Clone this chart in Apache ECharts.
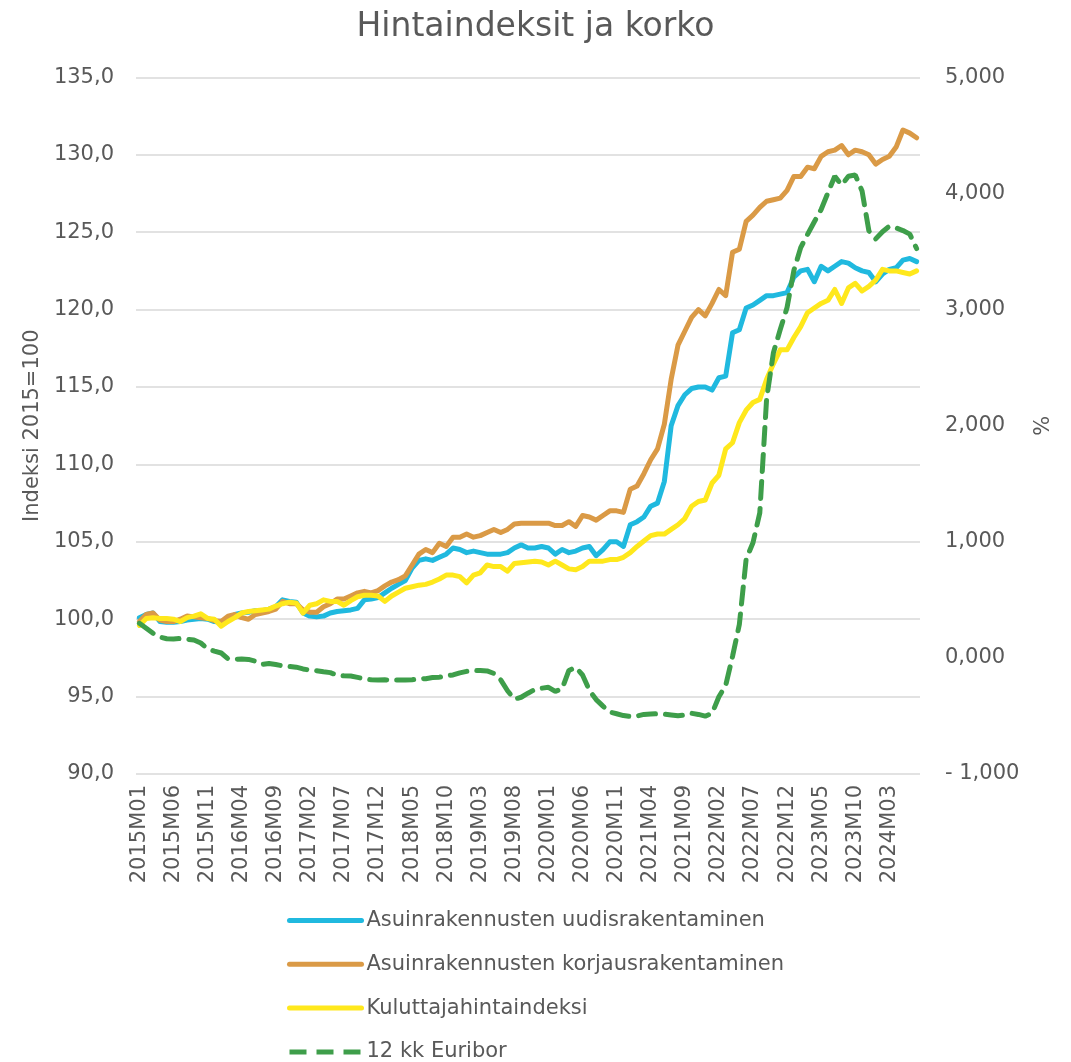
<!DOCTYPE html>
<html>
<head>
<meta charset="utf-8">
<script src="https://cdn.jsdelivr.net/npm/echarts@6/dist/echarts.min.js"></script>
<style>
html,body{margin:0;padding:0;background:#fff;}
#c{width:1071px;height:1062px;}
</style>
</head>
<body>
<div id="c"></div>
<script>
// Categories: monthly 2015M01 .. 2024M07
const startYear = 2015, monthCount = 115;
const categories = [];
for (let k = 0; k < monthCount; k++) {
  const y = startYear + Math.floor(k / 12), m = (k % 12) + 1;
  categories.push(y + 'M' + (m < 10 ? '0' + m : m));
}

const uudis = [
  100.1,100.3,100.4,99.85,99.8,99.8,99.85,99.95,100.0,100.05,100.0,99.85,
  99.8,100.05,100.3,100.4,100.45,100.55,100.55,100.65,100.8,101.25,101.15,101.1,
  100.4,100.2,100.15,100.2,100.4,100.5,100.55,100.6,100.7,101.25,101.3,101.4,
  101.7,102.0,102.25,102.5,103.3,103.8,103.9,103.8,104.0,104.2,104.6,104.5,
  104.3,104.4,104.3,104.2,104.2,104.2,104.3,104.6,104.8,104.6,104.6,104.7,
  104.6,104.2,104.5,104.3,104.4,104.6,104.7,104.1,104.5,105.0,105.0,104.7,
  106.1,106.3,106.6,107.3,107.5,108.9,112.5,113.8,114.5,114.9,115.0,115.0,
  114.8,115.6,115.7,118.5,118.7,120.1,120.3,120.6,120.9,120.9,121.0,121.1,
  122.1,122.5,122.6,121.8,122.8,122.5,122.8,123.1,123.0,122.7,122.5,122.4,
  121.8,122.3,122.6,122.7,123.2,123.3,123.1
];
const korjaus = [
  99.85,100.3,100.4,99.95,99.85,99.85,100.0,100.2,100.15,100.1,100.05,99.9,
  99.85,100.2,100.3,100.1,100.0,100.3,100.4,100.5,100.65,101.15,101.0,101.0,
  100.6,100.45,100.45,100.8,101.0,101.3,101.3,101.5,101.7,101.8,101.7,101.85,
  102.15,102.4,102.55,102.8,103.5,104.2,104.5,104.3,104.9,104.7,105.3,105.3,
  105.5,105.3,105.4,105.6,105.8,105.6,105.8,106.15,106.2,106.2,106.2,106.2,
  106.2,106.05,106.05,106.3,106.0,106.7,106.6,106.4,106.7,107.0,107.0,106.9,
  108.4,108.6,109.4,110.3,111.0,112.6,115.5,117.7,118.6,119.5,120.0,119.6,
  120.4,121.3,120.9,123.7,123.9,125.7,126.1,126.6,127.0,127.1,127.2,127.7,
  128.6,128.6,129.2,129.1,129.9,130.2,130.3,130.6,130.0,130.3,130.2,130.0,
  129.4,129.7,129.9,130.5,131.6,131.4,131.1
];
const khi = [
  99.6,100.05,100.1,100.05,100.05,100.0,99.85,100.1,100.2,100.35,100.05,100.0,
  99.55,99.85,100.1,100.4,100.5,100.55,100.6,100.65,100.85,101.0,101.1,101.05,
  100.4,100.9,101.0,101.25,101.15,101.15,100.9,101.2,101.45,101.55,101.55,101.5,
  101.15,101.5,101.75,102.0,102.1,102.2,102.25,102.4,102.6,102.85,102.85,102.75,
  102.35,102.85,103.0,103.5,103.4,103.4,103.1,103.6,103.65,103.7,103.75,103.7,
  103.5,103.75,103.5,103.25,103.2,103.4,103.75,103.75,103.75,103.85,103.85,104.0,
  104.3,104.7,105.05,105.4,105.5,105.5,105.8,106.1,106.5,107.3,107.6,107.7,
  108.8,109.3,111.0,111.4,112.7,113.5,114.0,114.2,115.5,116.5,117.4,117.4,
  118.2,118.9,119.8,120.1,120.4,120.6,121.3,120.4,121.4,121.7,121.2,121.5,
  121.9,122.6,122.5,122.5,122.4,122.3,122.5
];
const euribor = [
  0.298,0.255,0.212,0.180,0.165,0.163,0.167,0.161,0.154,0.128,0.079,0.059,
  0.042,-0.008,-0.012,-0.010,-0.013,-0.028,-0.056,-0.048,-0.057,-0.069,-0.074,-0.080,
  -0.095,-0.106,-0.110,-0.119,-0.127,-0.149,-0.154,-0.156,-0.168,-0.180,-0.189,-0.190,
  -0.189,-0.191,-0.191,-0.190,-0.188,-0.181,-0.179,-0.169,-0.166,-0.154,-0.147,-0.129,
  -0.116,-0.108,-0.109,-0.112,-0.134,-0.190,-0.283,-0.356,-0.339,-0.304,-0.272,-0.261,
  -0.253,-0.288,-0.266,-0.108,-0.081,-0.147,-0.279,-0.359,-0.415,-0.466,-0.481,-0.497,
  -0.505,-0.501,-0.487,-0.484,-0.481,-0.484,-0.491,-0.498,-0.492,-0.477,-0.487,-0.502,
  -0.477,-0.335,-0.237,0.013,0.287,0.852,0.992,1.249,2.233,2.629,2.828,3.018,
  3.337,3.534,3.647,3.757,3.862,4.007,4.149,4.073,4.149,4.160,4.022,3.679,
  3.609,3.671,3.718,3.703,3.681,3.650,3.526
];

const seriesNames = [
  'Asuinrakennusten uudisrakentaminen',
  'Asuinrakennusten korjausrakentaminen',
  'Kuluttajahintaindeksi',
  '12 kk Euribor'
];
const colors = ['#20B9DF', '#DA9A46', '#FFE81C', '#3E9E4A'];

const FONT = "'DejaVu Sans', sans-serif";
const TXT = '#595959';

const chart = echarts.init(document.getElementById('c'), null, {renderer: 'canvas'});
const lineSeries = (name, data, color, yIdx, dashed) => ({
  name, type: 'line', data, yAxisIndex: yIdx, symbol: 'none', smooth: false,
  lineStyle: dashed
    ? {color, width: 5, type: [17, 10], cap: 'round'}
    : {color, width: 5, cap: 'round', join: 'round'},
  itemStyle: {color},
  emphasis: {disabled: true}
});

const legends = seriesNames.map((n, k) => ({
  orient: 'vertical', left: 287, top: 910 + k * 43.8, padding: 0,
  itemWidth: 72, itemHeight: 14,
  itemStyle: {opacity: 0},
  lineStyle: {width: 5, cap: k === 3 ? 'butt' : 'round'},
  textStyle: {fontFamily: FONT, fontSize: 21, color: TXT},
  data: [n]
}));

chart.setOption({
  animation: false,
  backgroundColor: '#fff',
  textStyle: {fontFamily: FONT},
  title: {
    text: 'Hintaindeksit ja korko', left: 'center', top: 6,
    textStyle: {fontFamily: FONT, fontSize: 33, fontWeight: 'normal', color: TXT}
  },
  grid: {left: 136, right: 151, top: 77.4, bottom: 288, containLabel: false},
  legend: legends,
  xAxis: {
    type: 'category', data: categories, boundaryGap: true,
    axisLine: {show: false}, axisTick: {show: false},
    axisLabel: {
      interval: 4, rotate: 90, margin: 11,
      fontFamily: FONT, fontSize: 21, color: TXT
    }
  },
  yAxis: [
    {
      type: 'value', min: 90, max: 135, interval: 5,
      name: 'Indeksi 2015=100', nameLocation: 'middle', nameGap: 90, nameRotate: 90,
      nameTextStyle: {fontFamily: FONT, fontSize: 21, color: TXT},
      axisLine: {show: false}, axisTick: {show: false},
      splitLine: {lineStyle: {color: '#D9D9D9', width: 1.5}},
      axisLabel: {
        margin: 22, fontFamily: FONT, fontSize: 21, color: TXT,
        formatter: v => v.toFixed(1).replace('.', ',')
      }
    },
    {
      type: 'value', min: -1, max: 5, interval: 1, position: 'right',
      name: '%', nameLocation: 'middle', nameGap: 113, nameRotate: 90,
      nameTextStyle: {fontFamily: FONT, fontSize: 21, color: TXT},
      axisLine: {show: false}, axisTick: {show: false},
      splitLine: {show: false},
      axisLabel: {
        margin: 25, fontFamily: FONT, fontSize: 21, color: TXT,
        formatter: v => (v < 0 ? '- ' : '') + Math.abs(v).toFixed(3).replace('.', ',')
      }
    }
  ],
  series: [
    lineSeries(seriesNames[0], uudis, colors[0], 0, false),
    lineSeries(seriesNames[1], korjaus, colors[1], 0, false),
    lineSeries(seriesNames[2], khi, colors[2], 0, false),
    lineSeries(seriesNames[3], euribor, colors[3], 1, true)
  ]
});
</script>
</body>
</html>
